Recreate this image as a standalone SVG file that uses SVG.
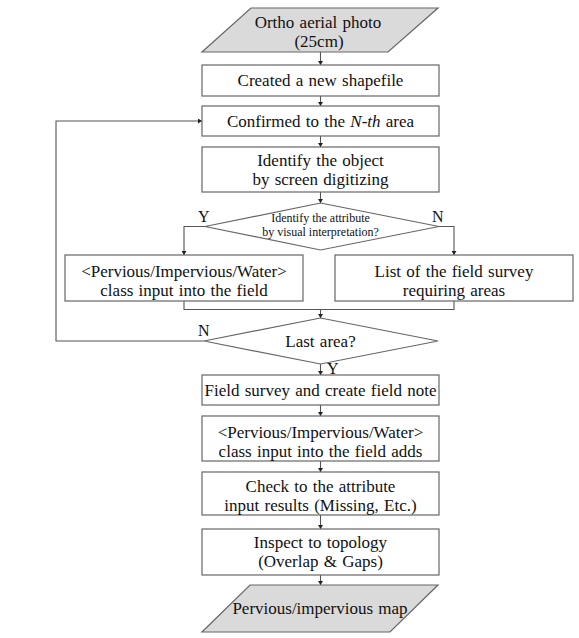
<svg xmlns="http://www.w3.org/2000/svg" width="579" height="638" viewBox="0 0 579 638">
<defs>
<marker id="ah" viewBox="0 0 8 10" refX="8" refY="5" markerWidth="4" markerHeight="5" orient="auto" markerUnits="userSpaceOnUse">
<path d="M0,0 L8,5 L0,10 z" fill="#222"/>
</marker>
<style>
.box{fill:#fff;stroke:#666;stroke-width:1.2}
.io{fill:#dadada;stroke:#666;stroke-width:1.2}
.t{font-family:"Liberation Serif","Times New Roman",serif;font-size:17px;fill:#111;text-anchor:middle;word-spacing:1px}
.s{font-family:"Liberation Serif","Times New Roman",serif;font-size:12px;fill:#111;text-anchor:middle}
.lb{font-family:"Liberation Serif","Times New Roman",serif;font-size:16px;fill:#111}
.c{fill:none;stroke:#555;stroke-width:1.1}
</style>
</defs>
<rect width="579" height="638" fill="#fff"/>
<g id="connectors">
<line class="c" x1="320.5" y1="52" x2="320.5" y2="65" marker-end="url(#ah)"/>
<line class="c" x1="320.5" y1="96" x2="320.5" y2="106" marker-end="url(#ah)"/>
<line class="c" x1="320.5" y1="136" x2="320.5" y2="147" marker-end="url(#ah)"/>
<line class="c" x1="320.5" y1="192" x2="320.5" y2="203" marker-end="url(#ah)"/>
<polyline class="c" points="205,226.5 184,226.5 184,255" marker-end="url(#ah)"/>
<polyline class="c" points="439,226.5 454,226.5 454,255" marker-end="url(#ah)"/>
<polyline class="c" points="184,301 184,309.5 454,309.5 454,301"/>
<line class="c" x1="320.5" y1="309.5" x2="320.5" y2="318" marker-end="url(#ah)"/>
<polyline class="c" points="204,341 56,341 56,121 202,121" marker-end="url(#ah)"/>
<line class="c" x1="320.5" y1="364" x2="320.5" y2="375" marker-end="url(#ah)"/>
<line class="c" x1="320.5" y1="405" x2="320.5" y2="416" marker-end="url(#ah)"/>
<line class="c" x1="320.5" y1="461" x2="320.5" y2="472" marker-end="url(#ah)"/>
<line class="c" x1="320.5" y1="515" x2="320.5" y2="529" marker-end="url(#ah)"/>
<line class="c" x1="320.5" y1="575" x2="320.5" y2="585" marker-end="url(#ah)"/>
<text class="lb" x="198" y="222">Y</text>
<text class="lb" x="432" y="222">N</text>
<text class="lb" x="198" y="336">N</text>
<text class="lb" x="327" y="374">Y</text>
</g>
<g id="ortho">
<polygon class="io" points="251,8 438,8 388,52 202,52"/>
<text class="t" x="318" y="28">Ortho aerial photo</text>
<text class="t" x="319" y="47">(25cm)</text>
</g>
<g id="created">
<rect class="box" x="202" y="65" width="237" height="31"/>
<text class="t" x="320.5" y="86">Created a new shapefile</text>
</g>
<g id="confirmed">
<rect class="box" x="202" y="106" width="237" height="30"/>
<text class="t" x="320.5" y="127">Confirmed to the <tspan font-style="italic">N-th</tspan> area</text>
</g>
<g id="identify">
<rect class="box" x="202" y="147" width="237" height="45"/>
<text class="t" x="320.5" y="166">Identify the object</text>
<text class="t" x="320.5" y="185">by screen digitizing</text>
</g>
<g id="decision1">
<polygon class="box" points="320.5,203 439,226.5 320.5,250 205,226.5"/>
<text class="s" x="320.5" y="222">Identify the attribute</text>
<text class="s" x="320.5" y="235.5">by visual interpretation?</text>
</g>
<g id="classinput">
<rect class="box" x="65" y="255" width="238" height="46"/>
<text class="t" x="184" y="277">&lt;Pervious/Impervious/Water&gt;</text>
<text class="t" x="184" y="296">class input into the field</text>
</g>
<g id="listsurvey">
<rect class="box" x="335" y="255" width="238" height="46"/>
<text class="t" x="454" y="277">List of the field survey</text>
<text class="t" x="454" y="296">requiring areas</text>
</g>
<g id="lastarea">
<polygon class="box" points="320.5,318 438,341 320.5,364 204,341"/>
<text class="t" x="320.5" y="347">Last area?</text>
</g>
<g id="fieldsurvey">
<rect class="box" x="202" y="375" width="237" height="30"/>
<text class="t" x="320.5" y="396">Field survey and create field note</text>
</g>
<g id="classadds">
<rect class="box" x="202" y="416" width="237" height="45"/>
<text class="t" x="320.5" y="438">&lt;Pervious/Impervious/Water&gt;</text>
<text class="t" x="320.5" y="457">class input into the field adds</text>
</g>
<g id="check">
<rect class="box" x="202" y="472" width="237" height="43"/>
<text class="t" x="320.5" y="492">Check to the attribute</text>
<text class="t" x="320.5" y="511">input results (Missing, Etc.)</text>
</g>
<g id="inspect">
<rect class="box" x="202" y="529" width="237" height="46"/>
<text class="t" x="320.5" y="548">Inspect to topology</text>
<text class="t" x="320.5" y="567">(Overlap &amp; Gaps)</text>
</g>
<g id="map">
<polygon class="io" points="250,585 438,585 390,632 202,632"/>
<text class="t" x="320" y="614">Pervious/impervious map</text>
</g>
</svg>
